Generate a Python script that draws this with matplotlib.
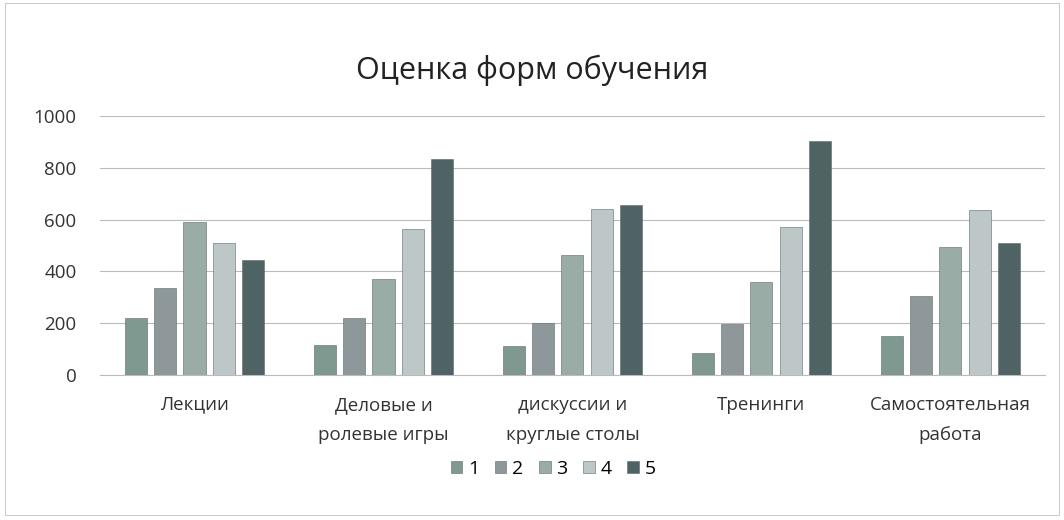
import numpy as np
import matplotlib.pyplot as plt

categories = ['Лекции', 'Деловые и\nролевые игры', 'дискуссии и\nкруглые столы',
              'Тренинги', 'Самостоятельная\nработа']
series_names = ['1', '2', '3', '4', '5']
s1 = [220, 115, 110, 85, 150]
s2 = [335, 220, 200, 195, 305]
s3 = [590, 370, 465, 360, 495]
s4 = [510, 565, 640, 570, 635]
s5 = [445, 835, 655, 905, 510]
colors = ['#7f9890', '#8e9799', '#9aaca6', '#bec7c8', '#4f6264']

plt.rcParams['font.family'] = ['Open Sans', 'DejaVu Sans']

fig = plt.figure(figsize=(10.64, 5.2), dpi=100)
ax = fig.add_axes([0.094, 0.279, 0.888, 0.498])

x = np.arange(len(categories))
w = 0.117
pitch = 0.155
for i, vals in enumerate([s1, s2, s3, s4, s5]):
    ax.bar(x + (i - 2) * pitch, vals, w, color=colors[i], label=series_names[i],
           edgecolor='#5a6a6a', linewidth=0.4, zorder=3)

ax.set_xlim(-0.5, len(categories) - 0.5)
ax.set_ylim(0, 1000)
ax.set_yticks(range(0, 1001, 200))
ax.set_xticks(x)
ax.set_xticklabels(categories, fontsize=13.5, color='#333333', linespacing=1.85)
ax.tick_params(axis='y', labelsize=13.5, colors='#333333', length=0, pad=17)
ax.tick_params(axis='x', length=0, pad=15)
ax.grid(axis='y', color='#bbbbbb', linewidth=0.8, zorder=0)
for s in ['top', 'right', 'left']:
    ax.spines[s].set_visible(False)
ax.spines['bottom'].set_color('#bbbbbb')

fig.suptitle('Оценка форм обучения', y=0.895, fontsize=22, color='#222222')

fig.legend(loc='center', bbox_to_anchor=(0.52, 0.098), ncol=5, frameon=False,
           fontsize=14, handlelength=0.6, handleheight=0.6, handletextpad=0.3,
           columnspacing=0.8)

# outer frame of the chart
fig.add_artist(plt.Rectangle((0.005, 0.01), 0.99, 0.985, transform=fig.transFigure,
                             fill=False, edgecolor='#cccccc', linewidth=0.8))

fig.savefig('out.png', dpi=100)
